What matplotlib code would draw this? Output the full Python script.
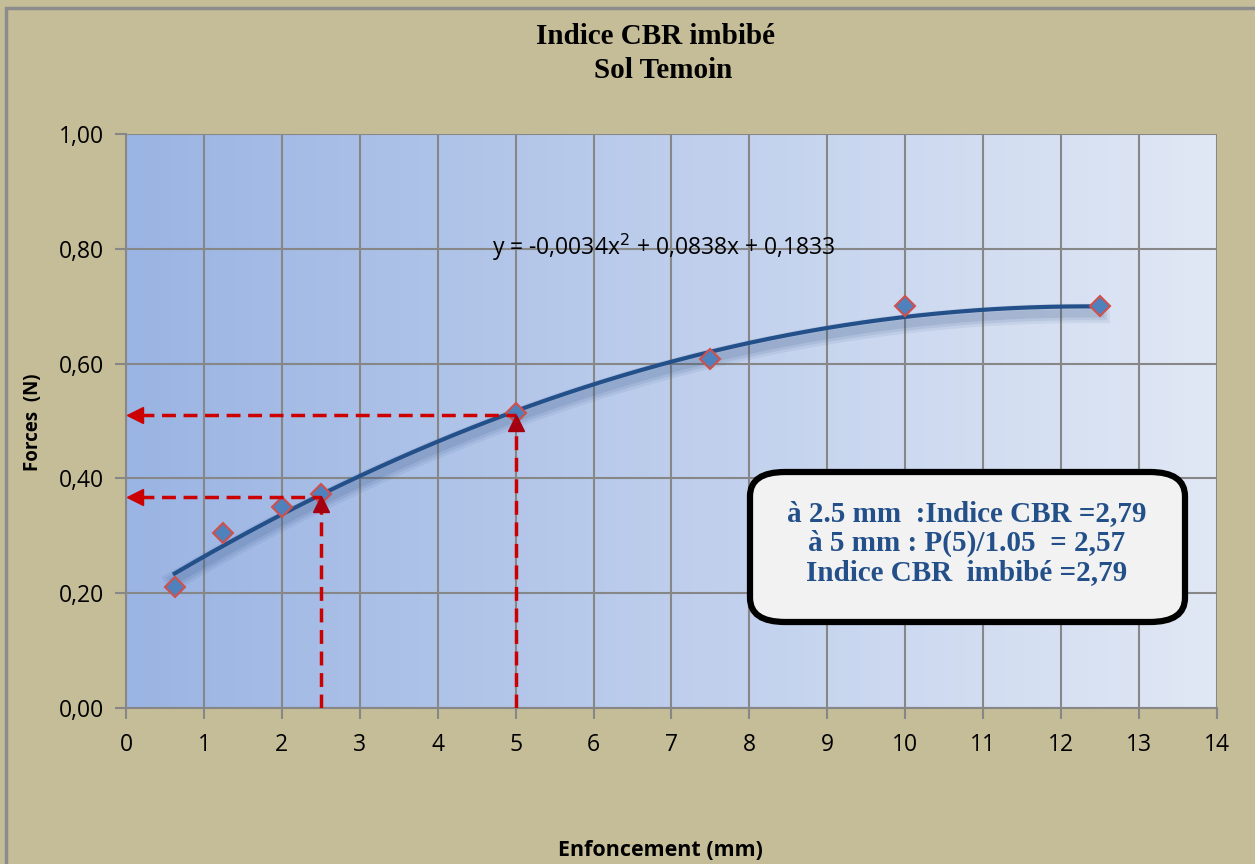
import matplotlib.pyplot as plt
import matplotlib.patheffects as pe
from matplotlib.patches import FancyBboxPatch, Rectangle
from matplotlib.colors import LinearSegmentedColormap
import numpy as np

# donnees
enfoncement = [0.625, 1.25, 2.0, 2.5, 5.0, 7.5, 10.0, 12.5]
forces = [0.211, 0.304, 0.350, 0.373, 0.514, 0.608, 0.700, 0.700]
coef_poly = [-0.0034, 0.0838, 0.1833]
lecture_x = [2.5, 5.0]
lecture_y = [0.367, 0.511]
fleche_y = [0.355, 0.497]
xticks = list(range(0, 15))
yticks = [0.0, 0.2, 0.4, 0.6, 0.8, 1.0]
ytick_labels = ["0,00", "0,20", "0,40", "0,60", "0,80", "1,00"]
texte_cadre = "à 2.5 mm  :Indice CBR =2,79\nà 5 mm : P(5)/1.05  = 2,57\nIndice CBR  imbibé =2,79"
equation = "y = -0,0034x$^2$ + 0,0838x + 0,1833"

fig = plt.figure(figsize=(12.55, 8.64), dpi=100)
fig.patch.set_facecolor("#C5BD98")
fig.patches.append(Rectangle((6 / 1255, -0.05), 1.2, 1.05 - 8 / 864, transform=fig.transFigure,
                             fill=False, edgecolor="#8C8C8C", lw=2.5))

ax = fig.add_axes([0.1004, 0.1806, 0.8693, 0.6643])
ax.set_xlim(0, 14)
ax.set_ylim(0, 1.0)

# fond en degrade
grad = np.linspace(0, 1, 256).reshape(1, -1)
cmap = LinearSegmentedColormap.from_list("fond", ["#9AB4E3", "#E1E8F5"])
ax.imshow(grad, extent=[0, 14, 0, 1], aspect="auto", cmap=cmap, zorder=0)

ax.set_xticks(xticks)
ax.set_yticks(yticks)
ax.set_xticklabels([str(t) for t in xticks], family="Open Sans", fontsize=16.5)
ax.set_yticklabels(ytick_labels, family="Open Sans", fontsize=16.5)
ax.grid(True, color="#878787", lw=1.5, zorder=1)
ax.set_axisbelow(False)
for s in ["top", "right"]:
    ax.spines[s].set_visible(False)
for s in ["left", "bottom"]:
    ax.spines[s].set_color("#878787")
    ax.spines[s].set_linewidth(1.5)
ax.tick_params(direction="out", length=8, width=1.5, color="#878787")
ax.tick_params(axis="x", pad=10)
ax.tick_params(axis="y", pad=8)

# courbe de tendance (ombre floue + trait)
xx = np.linspace(enfoncement[0], enfoncement[-1], 200)
yy = np.polyval(coef_poly, xx)
ombre = [pe.SimpleLineShadow(offset=(0, -5), shadow_color="#2E4E80", alpha=a, linewidth=w)
         for a, w in [(0.08, 14), (0.10, 10), (0.12, 6)]]
ax.plot(xx, yy, color="#24508A", lw=3, zorder=4, path_effects=ombre + [pe.Normal()])

# points mesures
ax.plot(enfoncement, forces, linestyle="none", marker="D", markersize=10,
        markerfacecolor="#4F81BD", markeredgecolor="#D0504D", markeredgewidth=1.5, zorder=5)

# lectures en pointilles rouges
for xl, yl, yf in zip(lecture_x, lecture_y, fleche_y):
    ax.plot([0.18, xl], [yl, yl], color="#CC0000", lw=2.5, ls=(0, (4, 2.2)), zorder=6)
    ax.plot([xl, xl], [0, yf], color="#CC0000", lw=2.5, ls=(0, (4, 2.2)), zorder=6)
    ax.plot(0.12, yl, marker="<", markersize=12, color="#CC0000", lw=0, zorder=7)
    ax.plot(xl, yf, marker="^", markersize=12, color="#A50010", lw=0, zorder=7)

ax.text(6.9, 0.803, equation, fontsize=16.5, family="Open Sans", ha="center", va="center", zorder=8)

# cadre de resultats
box = FancyBboxPatch((750 / 1255, 1 - 622 / 864), 435 / 1255, 150 / 864,
                     boxstyle="round,pad=0,rounding_size=0.028", transform=fig.transFigure,
                     facecolor="#F2F2F2", edgecolor="black", lw=4.5, zorder=9)
fig.patches.append(box)
fig.text(967 / 1255, 1 - 543 / 864, texte_cadre, ha="center", va="center",
         fontsize=21, family="Liberation Serif", weight="bold", color="#24508A",
         linespacing=1.12, zorder=10)

fig.text(655 / 1255, 1 - 37 / 864, "Indice CBR imbibé", ha="center", va="center",
         fontsize=21, family="Liberation Serif", weight="bold")
fig.text(663 / 1255, 1 - 70 / 864, "Sol Temoin", ha="center", va="center",
         fontsize=21, family="Liberation Serif", weight="bold")
fig.text(33 / 1255, 1 - 422 / 864, "Forces  (N)", rotation=90, ha="center", va="center",
         fontsize=13.5, weight="bold", family="Open Sans")
fig.text(660 / 1255, 1 - 851 / 864, "Enfoncement (mm)", ha="center", va="center",
         fontsize=15.5, weight="bold", family="Open Sans")

fig.savefig("out.png", dpi=100, facecolor=fig.get_facecolor())
